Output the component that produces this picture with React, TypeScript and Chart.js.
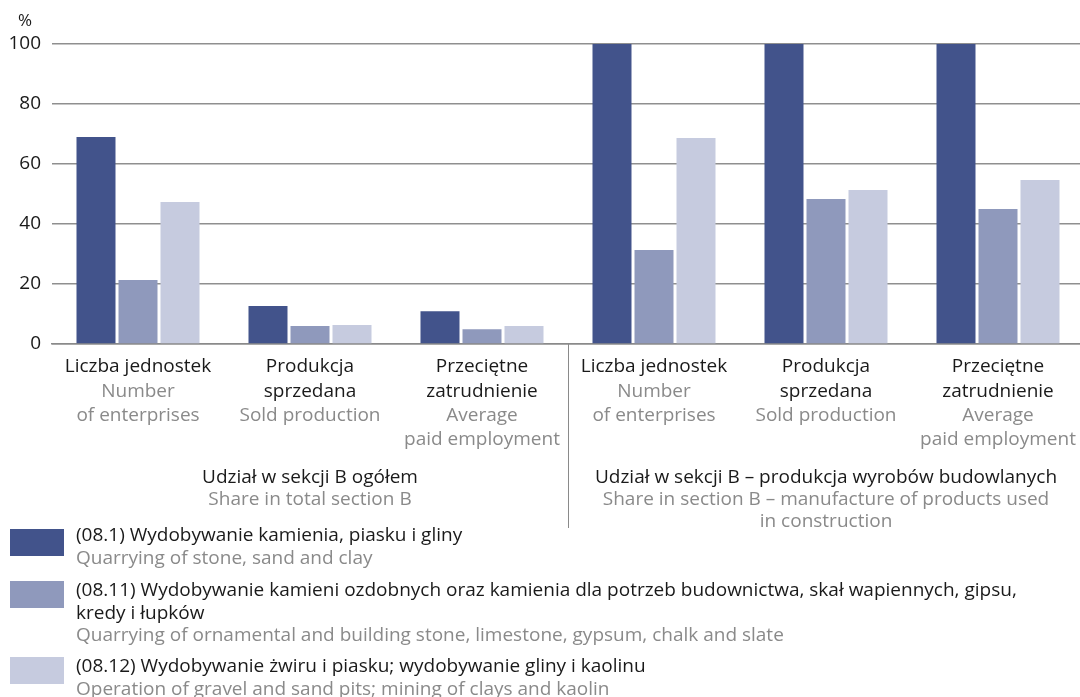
import React, { useEffect, useRef } from "react";
import { Chart, registerables } from "chart.js";

Chart.register(...registerables);

const categories = [
  "Liczba jednostek",
  "Produkcja sprzedana",
  "Przeciętne zatrudnienie",
  "Liczba jednostek",
  "Produkcja sprzedana",
  "Przeciętne zatrudnienie",
];
const plLines = [
  ["Liczba jednostek"],
  ["Produkcja", "sprzedana"],
  ["Przeciętne", "zatrudnienie"],
  ["Liczba jednostek"],
  ["Produkcja", "sprzedana"],
  ["Przeciętne", "zatrudnienie"],
];
const enLines = [
  ["Number", "of enterprises"],
  ["Sold production"],
  ["Average", "paid employment"],
  ["Number", "of enterprises"],
  ["Sold production"],
  ["Average", "paid employment"],
];
const groupPl = ["Udział w sekcji B ogółem", "Udział w sekcji B – produkcja wyrobów budowlanych"];
const groupEn = [["Share in total section B"], ["Share in section B – manufacture of products used", "in construction"]];

const series081 = [69, 12.7, 10.9, 100, 100, 100];
const series0811 = [21.3, 6.0, 4.9, 31.3, 48.3, 45];
const series0812 = [47.3, 6.3, 6.0, 68.7, 51.3, 54.7];

const legendPl = [
  ["(08.1) Wydobywanie kamienia, piasku i gliny"],
  ["(08.11) Wydobywanie kamieni ozdobnych oraz kamienia dla potrzeb budownictwa, skał wapiennych, gipsu,", "kredy i łupków"],
  ["(08.12) Wydobywanie żwiru i piasku; wydobywanie gliny i kaolinu"],
];
const legendEn = [
  "Quarrying of stone, sand and clay",
  "Quarrying of ornamental and building stone, limestone, gypsum, chalk and slate",
  "Operation of gravel and sand pits; mining of clays and kaolin",
];
const yTicks = [0, 20, 40, 60, 80, 100];

const COLORS = ["#42538b", "#8f99bc", "#c6cbdf"];
const FONT = "'Open Sans', sans-serif";
const BLACK = "#1a1a1a";
const GRAY = "#8a8a8a";
const LINE_H = 24.3;

const textPlugin = {
  id: "customText",
  afterDraw(chart: any) {
    const ctx = chart.ctx as CanvasRenderingContext2D;
    const x = chart.scales.x;
    const area = chart.chartArea;
    ctx.save();
    ctx.textAlign = "center";
    ctx.textBaseline = "middle";
    ctx.font = `19px ${FONT}`;
    // category labels
    for (let i = 0; i < categories.length; i++) {
      const cx = x.getPixelForValue(i);
      let y = area.bottom + 23;
      ctx.fillStyle = BLACK;
      for (const l of plLines[i]) {
        ctx.fillText(l, cx, y);
        y += LINE_H;
      }
      ctx.fillStyle = GRAY;
      for (const l of enLines[i]) {
        ctx.fillText(l, cx, y);
        y += LINE_H;
      }
    }
    // separator
    const sep = (x.getPixelForValue(2) + x.getPixelForValue(3)) / 2;
    ctx.strokeStyle = "#8a8a8a";
    ctx.lineWidth = 1;
    ctx.beginPath();
    ctx.moveTo(Math.round(sep) + 0.5, area.bottom);
    ctx.lineTo(Math.round(sep) + 0.5, 528);
    ctx.stroke();
    // group labels
    const gx = [
      (x.getPixelForValue(0) + x.getPixelForValue(2)) / 2,
      (x.getPixelForValue(3) + x.getPixelForValue(5)) / 2,
    ];
    for (let g = 0; g < 2; g++) {
      let y = 478;
      ctx.fillStyle = BLACK;
      ctx.fillText(groupPl[g], gx[g], y);
      y += 22;
      ctx.fillStyle = GRAY;
      for (const l of groupEn[g]) {
        ctx.fillText(l, gx[g], y);
        y += 22;
      }
    }
    // legend
    const swY = [529, 581, 657];
    const txtY = [536, 591, 667];
    ctx.textAlign = "left";
    for (let k = 0; k < 3; k++) {
      ctx.fillStyle = COLORS[k];
      ctx.fillRect(10, swY[k], 54, 27);
      let y = txtY[k];
      ctx.fillStyle = BLACK;
      for (const l of legendPl[k]) {
        ctx.fillText(l, 76, y);
        y += 22.5;
      }
      ctx.fillStyle = GRAY;
      ctx.fillText(legendEn[k], 76, y);
    }
    // unit
    ctx.textAlign = "center";
    ctx.fillStyle = BLACK;
    ctx.font = `17px ${FONT}`;
    ctx.fillText("%", 25, 21);
    ctx.restore();
  },
};

export default function App() {
  const ref = useRef<HTMLCanvasElement>(null);
  useEffect(() => {
    if (!ref.current) return;
    const chart = new Chart(ref.current, {
      type: "bar",
      data: {
        labels: categories,
        datasets: [
          { label: "08.1", data: series081, backgroundColor: COLORS[0] },
          { label: "08.11", data: series0811, backgroundColor: COLORS[1] },
          { label: "08.12", data: series0812, backgroundColor: COLORS[2] },
        ],
      },
      options: {
        responsive: false,
        animation: false,
        maintainAspectRatio: false,
        layout: { padding: { top: 44, bottom: 353, left: 0, right: 0 } },
        datasets: { bar: { categoryPercentage: 0.7326, barPercentage: 0.9286 } },
        plugins: { legend: { display: false }, tooltip: { enabled: false } },
        scales: {
          x: {
            ticks: { display: false },
            grid: { display: false },
            border: { display: true, color: "#8a8a8a", width: 1.5 },
            afterFit: (s: any) => {
              s.height = 0;
            },
          },
          y: {
            min: 0,
            max: 100,
            afterBuildTicks: (s: any) => {
              s.ticks = yTicks.map((v) => ({ value: v }));
            },
            ticks: { color: BLACK, font: { family: FONT, size: 19 }, padding: 11 },
            grid: { color: "#8f8f8f", lineWidth: 1.5, drawTicks: false },
            border: { display: false },
            afterFit: (s: any) => {
              s.width = 52;
            },
          },
        },
      },
      plugins: [textPlugin],
    });
    return () => chart.destroy();
  }, []);
  return (
    <div style={{ position: "fixed", left: 0, top: 0, width: 1080, height: 697, overflow: "hidden", background: "#fff" }}>
      <canvas ref={ref} width={1084} height={697} style={{ display: "block" }} />
    </div>
  );
}
